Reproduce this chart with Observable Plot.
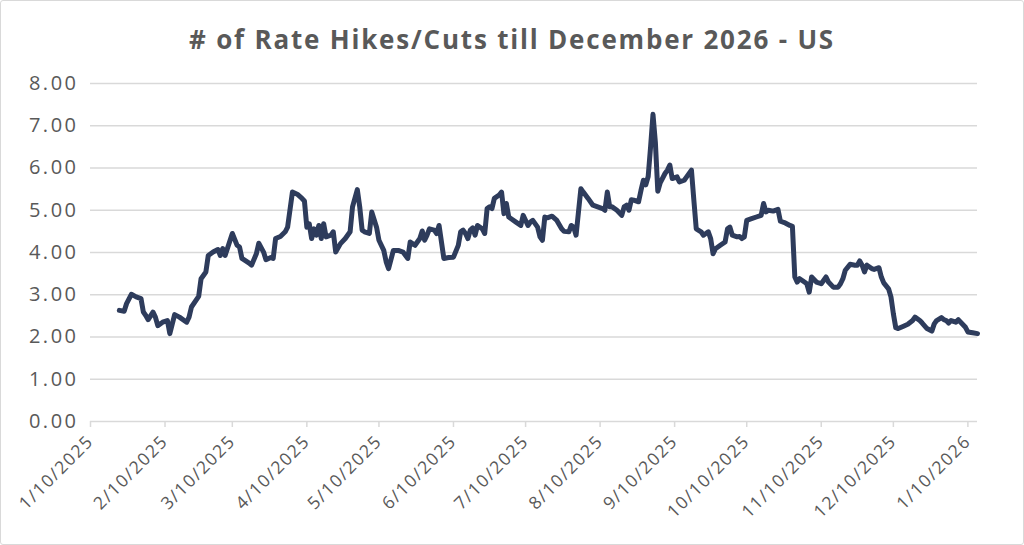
<!DOCTYPE html>
<html>
<head>
<meta charset="utf-8">
<script src="https://cdn.jsdelivr.net/npm/d3@7"></script>
<script src="https://cdn.jsdelivr.net/npm/@observablehq/plot@0.6"></script>
<style>
  html, body { margin: 0; padding: 0; background: #fff; overflow: hidden; }
  #wrap { position: relative; width: 1024px; height: 545px; }
  #frame { position: absolute; left: 0; top: 0; width: 1024px; height: 545px; box-sizing: border-box; border: 1px solid #d9d9d9; border-radius: 3px; pointer-events: none; }
  #title { height: 60px; box-sizing: border-box; padding-top: 24px; text-align: center; font-family: "Open Sans", sans-serif; font-weight: 700; font-size: 26px; letter-spacing: 1.8px; line-height: 30px; color: #595959; }
  #chart svg { display: block; }
</style>
</head>
<body>
<div id="wrap">
  <div id="title"># of Rate Hikes/Cuts till December 2026 - US</div>
  <div id="chart"></div>
  <div id="frame"></div>
</div>
<script>
const titleText = "# of Rate Hikes/Cuts till December 2026 - US";

const dates = [
"2025-01-22","2025-01-24","2025-01-25","2025-01-27","2025-01-29","2025-01-31","2025-02-01","2025-02-02","2025-02-03","2025-02-05",
"2025-02-06","2025-02-07","2025-02-09","2025-02-11","2025-02-12","2025-02-14","2025-02-16","2025-02-19","2025-02-20","2025-02-21",
"2025-02-24","2025-02-25","2025-02-27","2025-02-28","2025-03-02","2025-03-04","2025-03-05","2025-03-06","2025-03-07","2025-03-10",
"2025-03-12","2025-03-13","2025-03-14","2025-03-17","2025-03-18","2025-03-20","2025-03-21","2025-03-23","2025-03-24","2025-03-26",
"2025-03-27","2025-03-28","2025-03-30","2025-04-01","2025-04-02","2025-04-04","2025-04-06","2025-04-08","2025-04-09","2025-04-10",
"2025-04-11","2025-04-12","2025-04-13","2025-04-14","2025-04-15","2025-04-16","2025-04-17","2025-04-18","2025-04-20","2025-04-21",
"2025-04-22","2025-04-24","2025-04-26","2025-04-28","2025-04-29","2025-05-01","2025-05-02","2025-05-03","2025-05-04","2025-05-06",
"2025-05-07","2025-05-09","2025-05-10","2025-05-12","2025-05-13","2025-05-14","2025-05-16","2025-05-18","2025-05-20","2025-05-22",
"2025-05-23","2025-05-25","2025-05-27","2025-05-28","2025-05-29","2025-05-30","2025-05-31","2025-06-02","2025-06-03","2025-06-04",
"2025-06-06","2025-06-08","2025-06-10","2025-06-12","2025-06-13","2025-06-14","2025-06-15","2025-06-16","2025-06-17","2025-06-18",
"2025-06-19","2025-06-20","2025-06-22","2025-06-23","2025-06-24","2025-06-25","2025-06-26","2025-06-27","2025-06-29","2025-06-30",
"2025-07-01","2025-07-02","2025-07-03","2025-07-04","2025-07-06","2025-07-08","2025-07-09","2025-07-11","2025-07-12","2025-07-13",
"2025-07-15","2025-07-16","2025-07-17","2025-07-18","2025-07-19","2025-07-21","2025-07-23","2025-07-25","2025-07-26","2025-07-28",
"2025-07-29","2025-07-30","2025-07-31","2025-08-02","2025-08-03","2025-08-05","2025-08-07","2025-08-09","2025-08-11","2025-08-12",
"2025-08-13","2025-08-14","2025-08-15","2025-08-17","2025-08-19","2025-08-20","2025-08-21","2025-08-22","2025-08-23","2025-08-24",
"2025-08-26","2025-08-27","2025-08-28","2025-08-29","2025-08-30","2025-08-31","2025-09-01","2025-09-02","2025-09-03","2025-09-04",
"2025-09-06","2025-09-07","2025-09-08","2025-09-09","2025-09-11","2025-09-12","2025-09-14","2025-09-15","2025-09-17","2025-09-18",
"2025-09-19","2025-09-21","2025-09-22","2025-09-24","2025-09-25","2025-09-26","2025-09-27","2025-09-29","2025-10-01","2025-10-02",
"2025-10-03","2025-10-04","2025-10-06","2025-10-07","2025-10-08","2025-10-09","2025-10-10","2025-10-12","2025-10-14","2025-10-16",
"2025-10-17","2025-10-18","2025-10-19","2025-10-21","2025-10-23","2025-10-24","2025-10-26","2025-10-28","2025-10-29","2025-10-30",
"2025-10-31","2025-11-01","2025-11-03","2025-11-04","2025-11-05","2025-11-06","2025-11-08","2025-11-10","2025-11-12","2025-11-13",
"2025-11-15","2025-11-17","2025-11-18","2025-11-19","2025-11-20","2025-11-22","2025-11-24","2025-11-25","2025-11-26","2025-11-27",
"2025-11-28","2025-11-29","2025-12-01","2025-12-02","2025-12-04","2025-12-05","2025-12-06","2025-12-08","2025-12-09","2025-12-10",
"2025-12-11","2025-12-12","2025-12-14","2025-12-16","2025-12-18","2025-12-19","2025-12-21","2025-12-22","2025-12-24","2025-12-26",
"2025-12-27","2025-12-28","2025-12-30","2025-12-31","2026-01-01","2026-01-02","2026-01-03","2026-01-05","2026-01-06","2026-01-07",
"2026-01-09","2026-01-10","2026-01-12","2026-01-14"
];

const hikesCuts = [
2.63,2.61,2.79,3.01,2.95,2.91,2.59,2.51,2.41,2.59,
2.47,2.27,2.35,2.39,2.08,2.53,2.47,2.35,2.47,2.71,
2.96,3.38,3.54,3.93,4.01,4.07,3.93,4.09,3.93,4.45,
4.17,4.13,3.86,3.75,3.70,3.97,4.22,4.01,3.83,3.88,
3.86,4.33,4.38,4.49,4.60,5.43,5.38,5.28,5.22,4.60,
4.68,4.33,4.56,4.41,4.64,4.33,4.68,4.37,4.41,4.49,
4.01,4.21,4.33,4.49,5.08,5.49,5.08,4.53,4.49,4.45,
4.96,4.60,4.29,4.05,3.78,3.62,4.05,4.05,4.01,3.86,
4.25,4.17,4.33,4.51,4.29,4.41,4.56,4.53,4.45,4.64,
3.86,3.88,3.89,4.17,4.49,4.53,4.45,4.33,4.53,4.58,
4.41,4.64,4.56,4.45,5.04,5.08,5.04,5.28,5.36,5.43,
4.92,5.16,4.84,4.80,4.72,4.64,4.88,4.64,4.72,4.76,
4.60,4.37,4.29,4.84,4.82,4.86,4.76,4.56,4.50,4.49,
4.64,4.60,4.41,5.51,5.43,5.28,5.12,5.08,5.04,5.00,
5.43,5.08,5.08,5.00,4.88,5.08,5.12,5.00,5.25,5.24,
5.20,5.47,5.71,5.60,5.80,6.50,7.27,6.60,5.45,5.65,
5.87,5.95,6.07,5.75,5.79,5.67,5.71,5.79,5.95,5.24,
4.56,4.49,4.41,4.49,4.33,3.97,4.09,4.17,4.25,4.56,
4.60,4.41,4.37,4.38,4.33,4.37,4.76,4.80,4.84,4.88,
5.16,4.96,5.00,4.98,5.02,4.74,4.70,4.64,4.62,3.42,
3.30,3.38,3.30,3.26,3.06,3.42,3.30,3.26,3.42,3.30,
3.18,3.18,3.26,3.38,3.58,3.72,3.70,3.70,3.80,3.70,
3.54,3.70,3.62,3.60,3.64,3.42,3.28,3.14,2.95,2.55,
2.22,2.20,2.25,2.30,2.39,2.47,2.39,2.33,2.20,2.14,
2.31,2.39,2.46,2.41,2.39,2.33,2.39,2.35,2.41,2.35,
2.23,2.12,2.10,2.08
];

const xTickDates = ["2025-01-10","2025-02-10","2025-03-10","2025-04-10","2025-05-10","2025-06-10",
  "2025-07-10","2025-08-10","2025-09-10","2025-10-10","2025-11-10","2025-12-10","2026-01-10"];
const xDomain = ["2025-01-10", "2026-01-14"];
const yTicks = [0, 1, 2, 3, 4, 5, 6, 7, 8];

document.getElementById("title").textContent = titleText;

const parse = s => new Date(s + "T00:00:00Z");
const data = dates.map((d, i) => ({date: parse(d), value: hikesCuts[i]}));
const fmtDate = d => `${d.getUTCMonth() + 1}/${d.getUTCDate()}/${d.getUTCFullYear()}`;

const chart = Plot.plot({
  width: 1024,
  height: 485,
  marginLeft: 90,
  marginRight: 47,
  marginTop: 23,
  marginBottom: 124,
  style: {fontFamily: "'Open Sans', sans-serif", color: "#595959", background: "transparent"},
  x: {type: "utc", domain: xDomain.map(parse)},
  y: {domain: [0, 8]},
  marks: [
    Plot.ruleY(yTicks.slice(1), {stroke: "#d9d9d9", strokeWidth: 1.3}),
    Plot.ruleY([0], {stroke: "#d9d9d9", strokeWidth: 1.5}),
    Plot.axisY(yTicks, {tickSize: 0, tickPadding: 12, tickFormat: d3.format(".2f"), fontSize: 20, fill: "#595959", label: null, ariaLabel: "y-axis"}),
    Plot.axisX(xTickDates.map(parse), {tickSize: 6, stroke: "#d9d9d9", strokeWidth: 1.5, tickPadding: 11, tickRotate: -45, tickFormat: fmtDate, fontSize: 17.5, fill: "#595959", label: null, ariaLabel: "x-axis"}),
    Plot.line(data, {x: "date", y: "value", stroke: "#2e3c5c", strokeWidth: 5, strokeLinejoin: "round", strokeLinecap: "round"})
  ]
});
d3.select(chart).selectAll("g[aria-label='y-axis tick label'] text").style("letter-spacing", "2.5px");
d3.select(chart).selectAll("g[aria-label='x-axis tick label'] text").style("letter-spacing", "1.5px");
document.getElementById("chart").appendChild(chart);
</script>
</body>
</html>
